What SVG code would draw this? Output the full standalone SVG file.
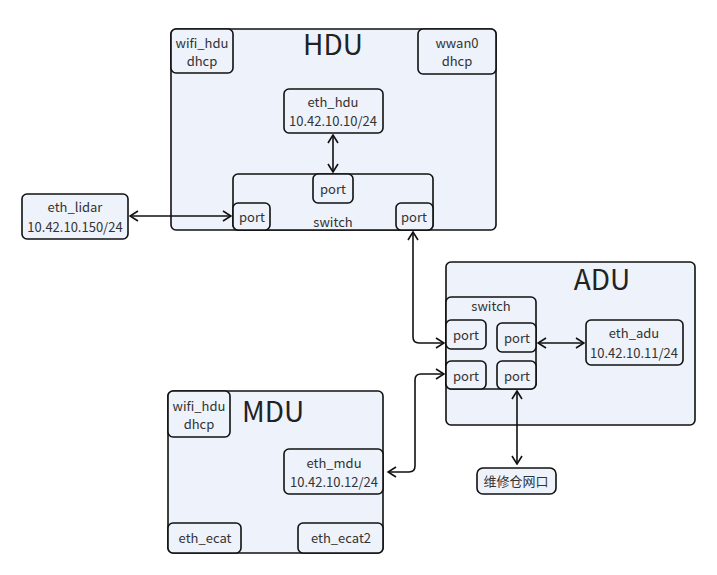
<svg xmlns="http://www.w3.org/2000/svg" width="717" height="575" viewBox="0 0 717 575">
<defs>
<style>
.b{fill:#eef2fb;stroke:#111;stroke-width:1.6}
.t{font-family:"Noto Sans CJK SC","Noto Sans",sans-serif;font-size:13px;fill:#333;text-anchor:middle}
.h{font-family:"Noto Sans CJK SC","Noto Sans",sans-serif;font-size:28px;fill:#222;text-anchor:middle}
.c{fill:none;stroke:#111;stroke-width:1.6}
</style>
<marker id="a" viewBox="0 0 10 12" refX="9" refY="6" markerWidth="10" markerHeight="12" markerUnits="userSpaceOnUse" orient="auto-start-reverse">
<path d="M1,1 L9,6 L1,11" fill="none" stroke="#111" stroke-width="1.6"/>
</marker>
</defs>
<rect width="717" height="575" fill="#fff"/>
<g id="HDU">
<rect class="b" x="171" y="29" width="325" height="201" rx="5"/>
<text class="h" x="333" y="55">HDU</text>
<g id="hdu_wifi"><rect class="b" x="171" y="29" width="62" height="44" rx="5"/><text class="t" x="202" y="48">wifi_hdu</text><text class="t" x="202" y="66">dhcp</text></g>
<g id="hdu_wwan0"><rect class="b" x="418" y="29" width="78" height="45" rx="5"/><text class="t" x="457" y="48">wwan0</text><text class="t" x="457" y="66">dhcp</text></g>
<g id="eth_hdu"><rect class="b" x="284" y="89" width="99" height="44" rx="5"/><text class="t" x="333" y="107">eth_hdu</text><text class="t" x="333" y="126">10.42.10.10/24</text></g>
<g id="hdu_switch"><rect class="b" x="233" y="174" width="200" height="56" rx="5"/><text class="t" x="333" y="227">switch</text>
<rect class="b" x="313" y="174" width="40" height="29" rx="5"/><text class="t" x="333" y="194">port</text>
<rect class="b" x="233" y="203" width="37" height="27" rx="5"/><text class="t" x="252" y="222">port</text>
<rect class="b" x="396" y="203" width="37" height="27" rx="5"/><text class="t" x="414" y="222">port</text></g>
</g>
<g id="eth_lidar"><rect class="b" x="22" y="194" width="106" height="45" rx="5"/><text class="t" x="75" y="212">eth_lidar</text><text class="t" x="75" y="232">10.42.10.150/24</text></g>
<g id="ADU">
<rect class="b" x="446" y="262" width="249" height="163" rx="5"/>
<text class="h" x="602" y="290">ADU</text>
<g id="adu_switch"><rect class="b" x="446" y="297" width="90" height="92" rx="5"/><text class="t" x="491" y="311">switch</text>
<rect class="b" x="446" y="320" width="40" height="29" rx="5"/><text class="t" x="466" y="340">port</text>
<rect class="b" x="497" y="323" width="39" height="29" rx="5"/><text class="t" x="517" y="343">port</text>
<rect class="b" x="446" y="361" width="40" height="28" rx="5"/><text class="t" x="466" y="381">port</text>
<rect class="b" x="497" y="361" width="39" height="28" rx="5"/><text class="t" x="517" y="381">port</text></g>
<g id="eth_adu"><rect class="b" x="586" y="320" width="97" height="45" rx="5"/><text class="t" x="634" y="338">eth_adu</text><text class="t" x="634" y="358">10.42.10.11/24</text></g>
</g>
<g id="MDU">
<rect class="b" x="168" y="391" width="215" height="162" rx="5"/>
<text class="h" x="273" y="422">MDU</text>
<g id="mdu_wifi"><rect class="b" x="168" y="391" width="62" height="46" rx="5"/><text class="t" x="199" y="411">wifi_hdu</text><text class="t" x="199" y="429">dhcp</text></g>
<g id="eth_mdu"><rect class="b" x="284" y="449" width="99" height="45" rx="5"/><text class="t" x="334" y="468">eth_mdu</text><text class="t" x="334" y="487">10.42.10.12/24</text></g>
<g id="eth_ecat"><rect class="b" x="168" y="523" width="73" height="30" rx="5"/><text class="t" x="205" y="543">eth_ecat</text></g>
<g id="eth_ecat2"><rect class="b" x="298" y="523" width="85" height="30" rx="5"/><text class="t" x="341" y="543">eth_ecat2</text></g>
</g>
<g id="port_box"><rect class="b" x="477" y="468" width="79" height="26" rx="6"/><text class="t" x="516" y="486">维修仓网口</text></g>
<g id="connectors">
<path class="c" d="M333,135 V172" marker-start="url(#a)" marker-end="url(#a)"/>
<path class="c" d="M130,216 H231" marker-start="url(#a)" marker-end="url(#a)"/>
<path class="c" d="M413,232 V337 Q413,343 419,343 H444" marker-start="url(#a)" marker-end="url(#a)"/>
<path class="c" d="M388,472 H409 Q415,472 415,466 V380 Q415,374 421,374 H444" marker-start="url(#a)" marker-end="url(#a)"/>
<path class="c" d="M538,343 H584" marker-start="url(#a)" marker-end="url(#a)"/>
<path class="c" d="M517,391 V464" marker-start="url(#a)" marker-end="url(#a)"/>
</g>
</svg>
